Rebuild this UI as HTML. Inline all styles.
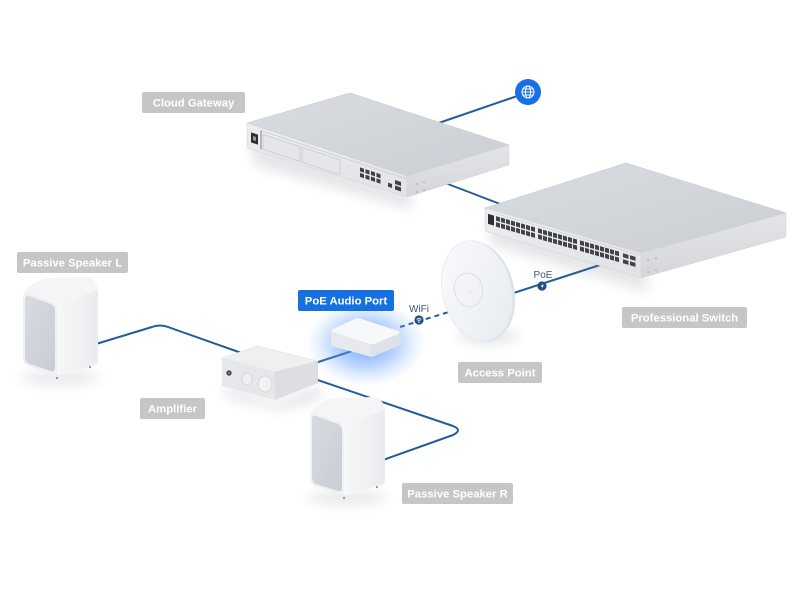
<!DOCTYPE html>
<html><head><meta charset="utf-8">
<style>
html,body{margin:0;padding:0;background:#fff;}
svg{display:block;}
text{font-family:"Liberation Sans",sans-serif;}
</style></head>
<body>
<svg width="800" height="600" viewBox="0 0 800 600" xmlns="http://www.w3.org/2000/svg">
<defs>
  <filter id="blur6" x="-50%" y="-50%" width="200%" height="200%"><feGaussianBlur stdDeviation="6"/></filter>
  <filter id="blur3" x="-50%" y="-50%" width="200%" height="200%"><feGaussianBlur stdDeviation="3"/></filter>
  <linearGradient id="topG" x1="0" y1="0" x2="1" y2="1">
    <stop offset="0" stop-color="#d9dce0"/><stop offset="1" stop-color="#cbced4"/>
  </linearGradient>
  <linearGradient id="frontG" x1="0" y1="0" x2="0" y2="1">
    <stop offset="0" stop-color="#eceef0"/><stop offset="1" stop-color="#e0e2e5"/>
  </linearGradient>
  <linearGradient id="sideG" x1="0" y1="0" x2="0" y2="1">
    <stop offset="0" stop-color="#e3e5e8"/><stop offset="1" stop-color="#d4d6da"/>
  </linearGradient>
  <radialGradient id="glow" cx="0.5" cy="0.5" r="0.5">
    <stop offset="0" stop-color="#3a86ff" stop-opacity="0.8"/>
    <stop offset="0.55" stop-color="#5c9cff" stop-opacity="0.4"/>
    <stop offset="1" stop-color="#9cc3ff" stop-opacity="0"/>
  </radialGradient>
  <linearGradient id="grill" x1="0" y1="0" x2="1" y2="1">
    <stop offset="0" stop-color="#d8dbe0"/><stop offset="1" stop-color="#c9cdd4"/>
  </linearGradient>
  <linearGradient id="spkSide" x1="0" y1="0" x2="1" y2="0">
    <stop offset="0" stop-color="#f7f8fa"/><stop offset="1" stop-color="#e9ebee"/>
  </linearGradient>
  <linearGradient id="apG" x1="0" y1="0" x2="1" y2="1">
    <stop offset="0" stop-color="#fafbfd"/><stop offset="1" stop-color="#e6eaf0"/>
  </linearGradient>
</defs>

<!-- ===== connectors (under devices) ===== -->
<g fill="none" stroke="#235d95" stroke-width="2" stroke-linecap="round" stroke-linejoin="round">
  <path d="M529,92 L430,126"/>
  <path d="M440,181 L508,207"/>
  <path d="M600,265 L495,299"/>
  <path d="M96,344 L152,327 Q160,324 168,327 L250,356"/>
  <path d="M300,368 L352,351"/>
  <path d="M300,374 L453,426 Q463,430 453,435 L380,461"/>
  <path d="M400,327 L452,311" stroke-dasharray="5 4" stroke-linecap="butt"/>
</g>

<!-- ===== shadows ===== -->
<g fill="#6b7280" opacity="0.18" filter="url(#blur6)">
  <polygon points="250,140 410,190 412,210 255,165"/>
  <polygon points="488,222 645,268 648,292 492,245"/>
  <polygon points="222,385 276,402 322,385 318,400 280,410 228,398"/>
  <ellipse cx="60" cy="378" rx="40" ry="6"/>
  <ellipse cx="347" cy="498" rx="40" ry="6"/>
  <ellipse cx="488" cy="336" rx="30" ry="8"/>
</g>

<!-- ===== Cloud Gateway ===== -->
<g>
  <polygon points="247,123 350,93 509,145 407,176" fill="url(#topG)" stroke="#c9ccd1" stroke-width="0.6"/>
  <polygon points="407,176 509,145 509,165 407,197" fill="url(#sideG)" stroke="#cfd2d6" stroke-width="0.5"/>
  <polygon points="247,123 407,176 407,197 247,148" fill="url(#frontG)" stroke="#cfd2d6" stroke-width="0.5"/>
  <g transform="matrix(1,0.331,0,1,247,123)">
    <line x1="14" y1="3" x2="160" y2="3" stroke="#c4c7cc" stroke-width="0.7"/>
    <line x1="14" y1="3" x2="14" y2="22" stroke="#6a6d73" stroke-width="0.8"/>
    <rect x="4" y="8" width="7" height="10" fill="#2c2e33"/>
    <rect x="6" y="11" width="3" height="4" fill="#9a9da3"/>
    <rect x="16" y="6" width="37" height="15" fill="#e5e6e9" stroke="#bfc2c7" stroke-width="0.6"/>
    <rect x="55" y="6" width="38" height="15" fill="#e5e6e9" stroke="#bfc2c7" stroke-width="0.6"/>
    <g fill="#3d4046">
      <rect x="113" y="7" width="4" height="4"/><rect x="118.5" y="7" width="4" height="4"/>
      <rect x="124" y="7" width="4" height="4"/><rect x="129.5" y="7" width="4" height="4"/>
      <rect x="113" y="12.5" width="4" height="4"/><rect x="118.5" y="12.5" width="4" height="4"/>
      <rect x="124" y="12.5" width="4" height="4"/><rect x="129.5" y="12.5" width="4" height="4"/>
      <rect x="141" y="13" width="4" height="4"/>
      <rect x="148" y="8" width="6" height="4"/><rect x="148" y="13.5" width="6" height="4"/>
    </g>
  </g>
  <g fill="#9ea2a8"><circle cx="417" cy="184" r="0.8"/><circle cx="424" cy="182" r="0.8"/><circle cx="417" cy="192" r="0.8"/><circle cx="424" cy="190" r="0.8"/></g>
</g>

<!-- ===== Professional Switch ===== -->
<g>
  <polygon points="485,208 626,163 786,213 641,253" fill="url(#topG)" stroke="#c9ccd1" stroke-width="0.6"/>
  <polygon points="641,253 786,213 786,237 641,278" fill="url(#sideG)" stroke="#cfd2d6" stroke-width="0.5"/>
  <polygon points="485,208 641,253 641,278 485,231" fill="url(#frontG)" stroke="#cfd2d6" stroke-width="0.5"/>
  <g transform="matrix(1,0.288,0,1,485,208)">
    <line x1="10" y1="2.5" x2="156" y2="2.5" stroke="#c4c7cc" stroke-width="0.6"/>
    <rect x="3" y="5" width="6" height="10" fill="#2c2e33"/>
    <g fill="#40444a">
      <rect x="11" y="5" width="4" height="4.5"/><rect x="16" y="5" width="4" height="4.5"/><rect x="21" y="5" width="4" height="4.5"/><rect x="26" y="5" width="4" height="4.5"/><rect x="31" y="5" width="4" height="4.5"/><rect x="36" y="5" width="4" height="4.5"/><rect x="41" y="5" width="4" height="4.5"/><rect x="46" y="5" width="4" height="4.5"/>
      <rect x="11" y="11" width="4" height="4.5"/><rect x="16" y="11" width="4" height="4.5"/><rect x="21" y="11" width="4" height="4.5"/><rect x="26" y="11" width="4" height="4.5"/><rect x="31" y="11" width="4" height="4.5"/><rect x="36" y="11" width="4" height="4.5"/><rect x="41" y="11" width="4" height="4.5"/><rect x="46" y="11" width="4" height="4.5"/>
      <rect x="53" y="5" width="4" height="4.5"/><rect x="58" y="5" width="4" height="4.5"/><rect x="63" y="5" width="4" height="4.5"/><rect x="68" y="5" width="4" height="4.5"/><rect x="73" y="5" width="4" height="4.5"/><rect x="78" y="5" width="4" height="4.5"/><rect x="83" y="5" width="4" height="4.5"/><rect x="88" y="5" width="4" height="4.5"/>
      <rect x="53" y="11" width="4" height="4.5"/><rect x="58" y="11" width="4" height="4.5"/><rect x="63" y="11" width="4" height="4.5"/><rect x="68" y="11" width="4" height="4.5"/><rect x="73" y="11" width="4" height="4.5"/><rect x="78" y="11" width="4" height="4.5"/><rect x="83" y="11" width="4" height="4.5"/><rect x="88" y="11" width="4" height="4.5"/>
      <rect x="95" y="5" width="4" height="4.5"/><rect x="100" y="5" width="4" height="4.5"/><rect x="105" y="5" width="4" height="4.5"/><rect x="110" y="5" width="4" height="4.5"/><rect x="115" y="5" width="4" height="4.5"/><rect x="120" y="5" width="4" height="4.5"/><rect x="125" y="5" width="4" height="4.5"/><rect x="130" y="5" width="4" height="4.5"/>
      <rect x="95" y="11" width="4" height="4.5"/><rect x="100" y="11" width="4" height="4.5"/><rect x="105" y="11" width="4" height="4.5"/><rect x="110" y="11" width="4" height="4.5"/><rect x="115" y="11" width="4" height="4.5"/><rect x="120" y="11" width="4" height="4.5"/><rect x="125" y="11" width="4" height="4.5"/><rect x="130" y="11" width="4" height="4.5"/>
      <rect x="138" y="5.5" width="5.5" height="4"/><rect x="145" y="5.5" width="5.5" height="4"/>
      <rect x="138" y="11.5" width="5.5" height="4"/><rect x="145" y="11.5" width="5.5" height="4"/>
    </g>
  </g>
  <g fill="#9ea2a8"><circle cx="648" cy="260" r="0.8"/><circle cx="656" cy="258" r="0.8"/><circle cx="648" cy="272" r="0.8"/><circle cx="656" cy="270" r="0.8"/></g>
</g>

<!-- ===== Access Point ===== -->
<g transform="rotate(-13 477 291)">
  <ellipse cx="479" cy="292" rx="35" ry="51" fill="#dde2e9"/>
  <ellipse cx="477" cy="291" rx="34.5" ry="51" fill="url(#apG)" stroke="#e1e5eb" stroke-width="0.6"/>
  <ellipse cx="469" cy="288" rx="14" ry="17" fill="none" stroke="#dfe3e9" stroke-width="1.2"/>
  <circle cx="470" cy="290" r="0.9" fill="#d3d8df"/>
</g>

<!-- ===== PoE / WiFi badges ===== -->
<circle cx="542" cy="286" r="4.6" fill="#1f4f86"/>
<path d="M543,283 L540.8,286.6 L542.4,286.6 L541.6,289 L543.9,285.3 L542.3,285.3 Z" fill="#fff"/>
<text x="543" y="278" font-size="10" fill="#3d5a7c" text-anchor="middle">PoE</text>
<circle cx="419" cy="320" r="4.6" fill="#1f4f86"/>
<path d="M416.6,319.4 Q419,317.4 421.4,319.4 M417.6,320.6 Q419,319.5 420.4,320.6" stroke="#fff" stroke-width="0.8" fill="none"/>
<circle cx="419" cy="322" r="0.8" fill="#fff"/>
<text x="419" y="312" font-size="10" fill="#3d5a7c" text-anchor="middle">WiFi</text>

<!-- ===== Globe ===== -->
<circle cx="528" cy="92" r="13" fill="#1a6fe6"/>
<g fill="none" stroke="#fff" stroke-width="1">
  <circle cx="528" cy="92" r="6"/>
  <ellipse cx="528" cy="92" rx="2.6" ry="6"/>
  <line x1="522" y1="92" x2="534" y2="92"/>
  <line x1="523" y1="89" x2="533" y2="89"/>
  <line x1="523" y1="95" x2="533" y2="95"/>
</g>

<!-- ===== Amplifier ===== -->
<g>
  <polygon points="222,358 258,346 318,361 274,372" fill="#eeeff1" stroke="#e0e2e5" stroke-width="0.6"/>
  <polygon points="274,372 318,361 318,383 275,400" fill="#dcdee1"/>
  <polygon points="222,358 274,372 275,400 222,386" fill="#e6e7ea"/>
  <circle cx="229" cy="373" r="2.6" fill="#3a3c40"/>
  <circle cx="229" cy="373" r="1.1" fill="#8a8d92"/>
  <ellipse cx="247" cy="379" rx="5" ry="6" fill="#eff0f2" stroke="#cfd1d5" stroke-width="0.7"/>
  <ellipse cx="265" cy="384" rx="7" ry="8" fill="#f1f2f4" stroke="#cfd1d5" stroke-width="0.7"/>
</g>

<!-- ===== PoE Audio Port with glow ===== -->
<ellipse cx="366" cy="343" rx="60" ry="44" fill="url(#glow)"/>
<g>
  <path d="M331,346 L331,331 L371,345 L372,357 Z" fill="#e7e9ee"/>
  <path d="M371,345 L401,333 L401,345 L372,357 Z" fill="#dde1e8"/>
  <path d="M333,329 Q330,330 333,332 L369,344 Q371,345 374,344 L398,334 Q401,332 398,331 L361,319 Q358,318 355,319 Z" fill="#f7f8fa" stroke="#eceef2" stroke-width="0.6"/>
</g>

<!-- ===== Speakers ===== -->
<g>
  <path d="M23,297 Q23,291 30,286 L40,280 Q44,278 52,278 L86,277 Q93,277 97,285 L98,290 L57,305 Z" fill="#f4f5f7"/>
  <path d="M57,305 L98,290 L98,360 Q98,364 94,365 L61,375 Q57,376 57,372 Z" fill="url(#spkSide)"/>
  <path d="M23,297 Q23,292 28,293 L52,302 Q57,304 57,310 L57,370 Q57,376 51,374 L28,366 Q23,364 23,359 Z" fill="#f0f1f3"/>
  <path d="M25,299 Q25,295 29,296 L51,304 Q55,306 55,311 L55,368 Q55,372 51,371 L29,364 Q25,362 25,358 Z" fill="url(#grill)"/>
  <circle cx="57" cy="378" r="0.9" fill="#555"/>
  <circle cx="90" cy="367" r="0.9" fill="#555"/>
</g>
<g transform="translate(287,120)">
  <path d="M23,297 Q23,291 30,286 L40,280 Q44,278 52,278 L86,277 Q93,277 97,285 L98,290 L57,305 Z" fill="#f4f5f7"/>
  <path d="M57,305 L98,290 L98,360 Q98,364 94,365 L61,375 Q57,376 57,372 Z" fill="url(#spkSide)"/>
  <path d="M23,297 Q23,292 28,293 L52,302 Q57,304 57,310 L57,370 Q57,376 51,374 L28,366 Q23,364 23,359 Z" fill="#f0f1f3"/>
  <path d="M25,299 Q25,295 29,296 L51,304 Q55,306 55,311 L55,368 Q55,372 51,371 L29,364 Q25,362 25,358 Z" fill="url(#grill)"/>
  <circle cx="57" cy="378" r="0.9" fill="#555"/>
  <circle cx="90" cy="367" r="0.9" fill="#555"/>
</g>

<!-- ===== Labels ===== -->
<g font-size="11.3" font-weight="bold" fill="#ffffff" text-anchor="middle">
  <rect x="142" y="92" width="103" height="21" rx="2" fill="#c6c6c6"/>
  <text x="193.5" y="106.5">Cloud Gateway</text>
  <rect x="622" y="307" width="125" height="21" rx="2" fill="#c6c6c6"/>
  <text x="684.5" y="321.5">Professional Switch</text>
  <rect x="17" y="252" width="111" height="21" rx="2" fill="#c6c6c6"/>
  <text x="72.5" y="266.5">Passive Speaker L</text>
  <rect x="140" y="398" width="65" height="21" rx="2" fill="#c6c6c6"/>
  <text x="172.5" y="412.5">Amplifier</text>
  <rect x="298" y="290" width="96" height="21" rx="2" fill="#1670e0"/>
  <text x="346" y="304.5">PoE Audio Port</text>
  <rect x="458" y="362" width="84" height="21" rx="2" fill="#c6c6c6"/>
  <text x="500" y="376.5">Access Point</text>
  <rect x="402" y="483" width="111" height="21" rx="2" fill="#c6c6c6"/>
  <text x="457.5" y="497.5">Passive Speaker R</text>
</g>
</svg>
</body></html>
